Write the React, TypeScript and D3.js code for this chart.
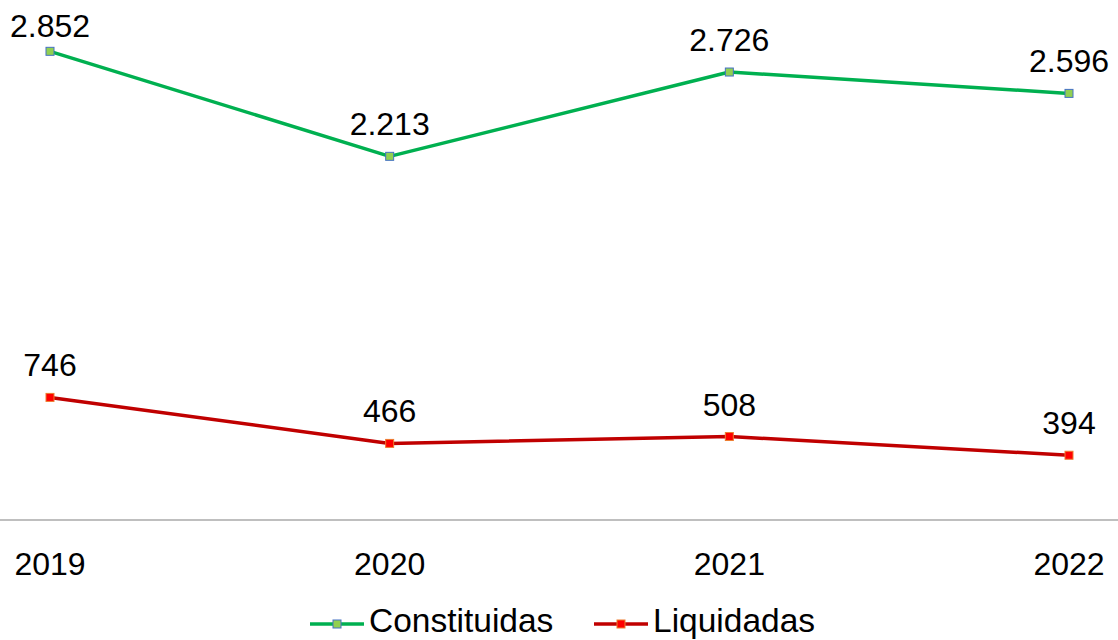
import { useEffect, useRef } from 'react'
import * as d3 from 'd3'

const years = ['2019', '2020', '2021', '2022']
const constituidas = [2852, 2213, 2726, 2596]
const liquidadas = [746, 466, 508, 394]
const seriesNames = ['Constituidas', 'Liquidadas']

const WIDTH = 1118
const HEIGHT = 640
const FONT = '"Liberation Sans", Arial, sans-serif'

export default function App() {
  const svgRef = useRef<SVGSVGElement>(null)

  useEffect(() => {
    if (!svgRef.current) return
    const svg = d3.select(svgRef.current)
    svg.selectAll('*').remove()

    const xScale = d3.scalePoint<string>().domain(years).range([50, 1069])
    const yScale = d3.scaleLinear().domain([0, 3000]).range([520, 27])

    const fmt = d3.formatLocale({ decimal: ',', thousands: '.', grouping: [3], currency: ['', ''] }).format(',')

    const series = [
      { name: seriesNames[0], values: constituidas, stroke: '#00B050', fill: '#92D050', mStroke: '#4472C4' },
      { name: seriesNames[1], values: liquidadas, stroke: '#C00000', fill: '#FF0000', mStroke: '#ED7D31' },
    ]

    // Category axis line
    svg.append('line')
      .attr('x1', 0).attr('x2', WIDTH)
      .attr('y1', yScale(0)).attr('y2', yScale(0))
      .attr('stroke', '#BFBFBF').attr('stroke-width', 2)

    // Year labels
    svg.selectAll('.year')
      .data(years)
      .join('text')
      .attr('x', (d) => xScale(d)!)
      .attr('y', 575)
      .attr('text-anchor', 'middle')
      .attr('font-family', FONT)
      .attr('font-size', 32)
      .attr('fill', '#000')
      .text((d) => d)

    const line = d3.line<number>()
      .x((_, i) => xScale(years[i])!)
      .y((d) => yScale(d))

    for (const s of series) {
      svg.append('path')
        .datum(s.values)
        .attr('fill', 'none')
        .attr('stroke', s.stroke)
        .attr('stroke-width', 3.5)
        .attr('stroke-linejoin', 'round')
        .attr('d', line)

      svg.selectAll(null)
        .data(s.values)
        .join('rect')
        .attr('x', (_, i) => xScale(years[i])! - 4)
        .attr('y', (d) => yScale(d) - 4)
        .attr('width', 8).attr('height', 8)
        .attr('fill', s.fill)
        .attr('stroke', s.mStroke)
        .attr('stroke-width', 1)

      svg.selectAll(null)
        .data(s.values)
        .join('text')
        .attr('x', (_, i) => xScale(years[i])!)
        .attr('y', (d) => Math.max(yScale(d) - 21, 37))
        .attr('text-anchor', 'middle')
        .attr('font-family', FONT)
        .attr('font-size', 32)
        .attr('fill', '#000')
        .text((d) => fmt(d))
    }

    // Legend
    const legendX = [310, 594]
    series.forEach((s, i) => {
      const lg = svg.append('g').attr('transform', `translate(${legendX[i]},624)`)
      lg.append('line').attr('x1', 0).attr('x2', 54).attr('y1', 0).attr('y2', 0)
        .attr('stroke', s.stroke).attr('stroke-width', 3.5)
      lg.append('rect').attr('x', 23).attr('y', -4).attr('width', 8).attr('height', 8)
        .attr('fill', s.fill).attr('stroke', s.mStroke).attr('stroke-width', 1)
      lg.append('text').attr('x', 59).attr('y', 8)
        .attr('font-family', FONT).attr('font-size', 33.5).attr('fill', '#000')
        .text(s.name)
    })
  }, [])

  return (
    <svg
      ref={svgRef}
      width={WIDTH}
      height={HEIGHT}
      style={{ position: 'absolute', left: 0, top: 0, background: '#fff' }}
    />
  )
}
